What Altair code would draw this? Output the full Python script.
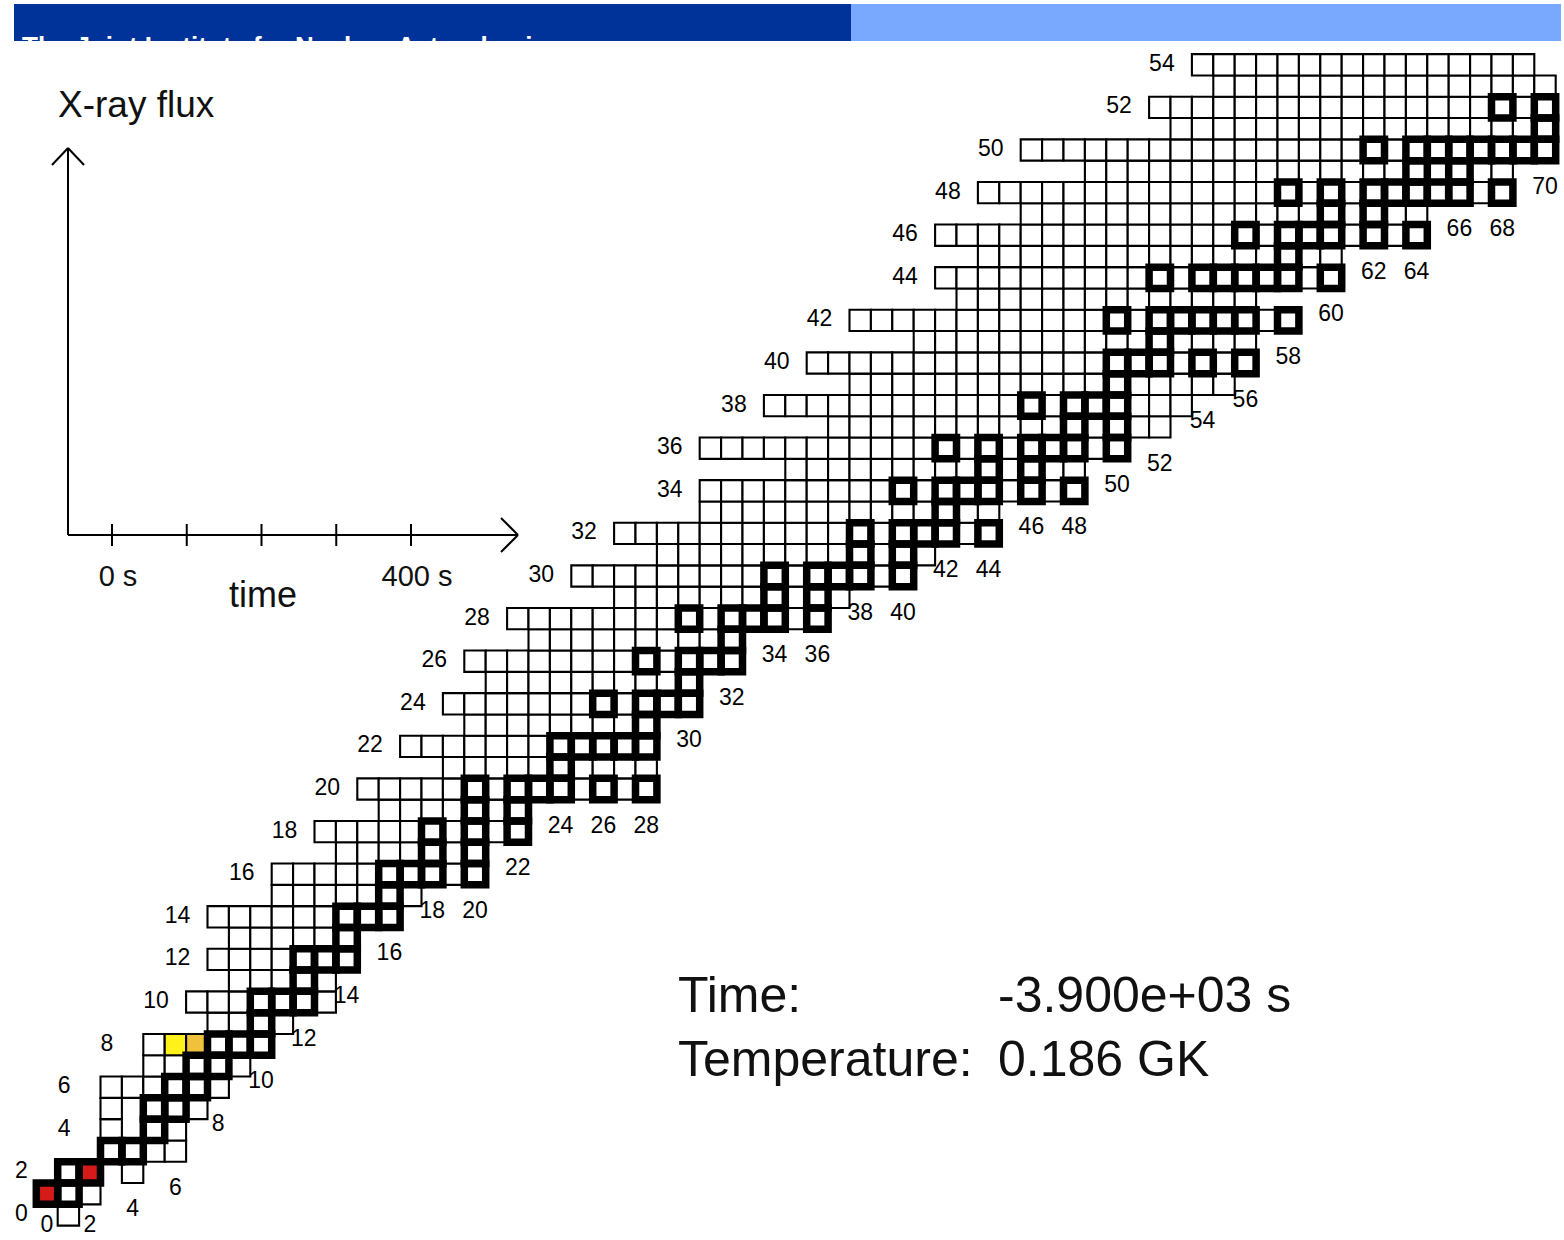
import altair as alt
import pandas as pd

W, H = 1564, 1240

# ---------------------------------------------------------------------------
# Reaction network: for every proton number Z the first and last neutron
# number N that is part of the network.
# ---------------------------------------------------------------------------
Z_ROWS = list(range(0, 55))
N_FIRST = [1, 0, 1, 3, 3, 3, 3, 5, 5, 8,
           7, 9, 8, 9, 8, 11, 11, 14, 13, 16,
           15, 19, 17, 20, 19, 21, 20, 23, 22, 27,
           25, 29, 27, 31, 31, 35, 31, 37, 34, 38,
           36, 41, 38, 43, 42, 44, 42, 46, 44, 49,
           46, 53, 52, 55, 54]
N_LAST = [1, 2, 4, 6, 6, 7, 8, 9, 10, 11,
          13, 13, 14, 14, 16, 17, 20, 20, 22, 22,
          28, 28, 28, 28, 30, 30, 32, 32, 36, 37,
          40, 41, 44, 44, 48, 48, 50, 52, 53, 55,
          56, 56, 58, 56, 60, 60, 64, 64, 68, 68,
          70, 70, 70, 70, 69]
# unbound nuclei inside a row's span (Z, N)
MISSING = [(2, 3), (4, 4), (5, 4)]

# stable isotopes, neutron numbers per element
STABLE_N = {
    1: [0, 1], 2: [1, 2], 3: [3, 4], 4: [5], 5: [5, 6], 6: [6, 7], 7: [7, 8],
    8: [8, 9, 10], 9: [10], 10: [10, 11, 12], 11: [12], 12: [12, 13, 14],
    13: [14], 14: [14, 15, 16], 15: [16], 16: [16, 17, 18, 20], 17: [18, 20],
    18: [18, 20, 22], 19: [20, 22], 20: [20, 22, 23, 24, 26, 28], 21: [24],
    22: [24, 25, 26, 27, 28], 23: [28], 24: [26, 28, 29, 30], 25: [30],
    26: [28, 30, 31, 32], 27: [32], 28: [30, 32, 33, 34, 36], 29: [34, 36],
    30: [34, 36, 37, 38, 40], 31: [38, 40], 32: [38, 40, 41, 42, 44], 33: [42],
    34: [40, 42, 43, 44, 46, 48], 35: [44, 46], 36: [42, 44, 46, 47, 48, 50],
    37: [48, 50], 38: [46, 48, 49, 50], 39: [50], 40: [50, 51, 52, 54, 56],
    41: [52], 42: [50, 52, 53, 54, 55, 56, 58], 44: [52, 54, 55, 56, 57, 58, 60],
    45: [58], 46: [56, 58, 59, 60, 62, 64], 47: [60, 62],
    48: [58, 60, 62, 63, 64, 65, 66, 68], 49: [64, 66],
    50: [62, 64, 65, 66, 67, 68, 69, 70], 51: [70], 52: [68, 70],
}

# abundance colouring at this time step (Z, N) -> colour
ABUNDANCE_COLOUR = {
    (1, 0): "#d61a1a",
    (2, 2): "#d61a1a",
    (8, 6): "#fff21a",
    (8, 7): "#f0c23c",
}

TIME_TICKS = [0, 100, 200, 300, 400]
TIME_TICK_TEXT = ["0 s", "", "", "", "400 s"]
TIME_VALUE = "-3.900e+03 s"
TEMPERATURE_VALUE = "0.186 GK"
HEADER_TEXT = "The Joint Institute for Nuclear Astrophysics"

# ---------------------------------------------------------------------------
# tables built from the arrays above
# ---------------------------------------------------------------------------
records = []
for z, n_first, n_last in zip(Z_ROWS, N_FIRST, N_LAST):
    for n in range(n_first, n_last + 1):
        if (z, n) in MISSING:
            continue
        records.append({
            "Z": z,
            "N": n,
            "fill": ABUNDANCE_COLOUR.get((z, n), "white"),
            "stable": n in STABLE_N.get(z, []),
        })
cells = pd.DataFrame(records)
cells["n0"] = cells["N"] - 0.5
cells["n1"] = cells["N"] + 0.5
cells["z0"] = cells["Z"] - 0.5
cells["z1"] = cells["Z"] + 0.5

# proton-number labels sit two cells left of the first nucleus of even rows
z_labels = pd.DataFrame({
    "Z": [z for z in Z_ROWS if z % 2 == 0],
    "N": [N_FIRST[z] - 2.5 for z in Z_ROWS if z % 2 == 0],
    "text": [str(z) for z in Z_ROWS if z % 2 == 0],
})

# neutron-number labels sit two rows below the lowest nucleus of even
# columns, kept inside the bottom edge of the chart
lowest_z = cells.groupby("N")["Z"].min()
even_n = [n for n in range(0, int(cells["N"].max()) + 1, 2)]
n_labels = pd.DataFrame({
    "N": even_n,
    "Z": [max(lowest_z[n] - 2, -0.75) for n in even_n],
    "text": [str(n) for n in even_n],
})

# ---------------------------------------------------------------------------
# chart of nuclides
# ---------------------------------------------------------------------------
PX_PER_N = 21.4
PX_PER_Z = 21.3
N0_PX = 47.0      # horizontal position of N = 0
Z0_PX = 1215.0    # vertical position of Z = 0

n_scale = alt.Scale(domain=[-N0_PX / PX_PER_N, (W - N0_PX) / PX_PER_N],
                    nice=False, zero=False)
z_scale = alt.Scale(domain=[(Z0_PX - H) / PX_PER_Z, Z0_PX / PX_PER_Z],
                    nice=False, zero=False)

box_enc = dict(
    x=alt.X("n0:Q", scale=n_scale, axis=None),
    x2="n1:Q",
    y=alt.Y("z0:Q", scale=z_scale, axis=None),
    y2="z1:Q",
)

boxes = alt.Chart(cells).mark_rect(stroke="black", strokeWidth=2.1).encode(
    fill=alt.Fill("fill:N", scale=None), **box_enc
)

stable_boxes = alt.Chart(cells).transform_filter(
    alt.datum.stable
).mark_rect(fillOpacity=0, stroke="black", strokeWidth=7.5).encode(**box_enc)

label_font = dict(font="Liberation Sans", fontSize=23, color="black")

z_text = alt.Chart(z_labels).mark_text(
    align="left", baseline="alphabetic", dy=6, **label_font
).encode(
    x=alt.X("N:Q", scale=n_scale, axis=None),
    y=alt.Y("Z:Q", scale=z_scale, axis=None),
    text="text:N",
)

n_text = alt.Chart(n_labels).mark_text(
    align="center", baseline="alphabetic", dy=1, **label_font
).encode(
    x=alt.X("N:Q", scale=n_scale, axis=None),
    y=alt.Y("Z:Q", scale=z_scale, axis=None),
    text="text:N",
)

network = alt.layer(boxes, stable_boxes, z_text, n_text)

# ---------------------------------------------------------------------------
# light-curve inset: flux against time
# ---------------------------------------------------------------------------
T0_PX = 112.0        # position of t = 0 s
PX_PER_S = 299.0 / 400.0
time_scale = alt.Scale(domain=[-T0_PX / PX_PER_S, (W - T0_PX) / PX_PER_S],
                       nice=False, zero=False)

one = pd.DataFrame({"k": [0]})
ticks = pd.DataFrame({"t": TIME_TICKS, "label": TIME_TICK_TEXT})

axis_style = dict(color="black", strokeWidth=2)


def seg(x1, y1, x2, y2):
    return alt.Chart(one).mark_rule(**axis_style).encode(
        x=alt.value(x1), y=alt.value(y1), x2=alt.value(x2), y2=alt.value(y2)
    )


flux_axis = alt.layer(
    seg(68, 535, 68, 148), seg(68, 148, 52, 165), seg(68, 148, 84, 165),
    seg(68, 535, 518, 535), seg(518, 535, 501, 518), seg(518, 535, 501, 552),
)

tick_marks = alt.Chart(ticks).mark_rule(**axis_style).encode(
    x=alt.X("t:Q", scale=time_scale, axis=None),
    y=alt.value(524), y2=alt.value(546),
)
tick_text = alt.Chart(ticks).mark_text(
    font="Liberation Sans", fontSize=29, align="center", baseline="alphabetic",
    dx=6, color="#111111"
).encode(
    x=alt.X("t:Q", scale=time_scale, axis=None),
    y=alt.value(586),
    text="label:N",
)


def note(text, x, y, size, align="left", color="#111111", weight="normal"):
    return alt.Chart(one).mark_text(
        text=text, font="Liberation Sans", fontSize=size, align=align,
        baseline="alphabetic", color=color, fontWeight=weight,
    ).encode(x=alt.value(x), y=alt.value(y))


inset = alt.layer(
    flux_axis, tick_marks, tick_text,
    note("X-ray flux", 58, 117, 37),
    note("time", 263, 607, 36, align="center"),
)

# ---------------------------------------------------------------------------
# slide header and status read-out
# ---------------------------------------------------------------------------
header = alt.layer(
    alt.Chart(one).mark_rect(color="#003399").encode(
        x=alt.value(14), x2=alt.value(851), y=alt.value(4), y2=alt.value(41)),
    alt.Chart(one).mark_rect(color="#78a8ff").encode(
        x=alt.value(851), x2=alt.value(1561), y=alt.value(4), y2=alt.value(41)),
    note(HEADER_TEXT, 22, 55, 26, color="white", weight="bold"),
)

status = alt.layer(
    note("Time:", 678, 1012, 50),
    note(TIME_VALUE, 998, 1012, 50),
    note("Temperature:", 678, 1076, 50),
    note(TEMPERATURE_VALUE, 998, 1076, 50),
)

chart = alt.layer(network, inset, header, status).resolve_scale(
    x="independent", y="independent"
).properties(
    width=W, height=H, padding=0, autosize=alt.AutoSizeParams(type="none"),
    background="white",
).configure_view(stroke=None)

chart.save("out.html", embed_options={"renderer": "svg", "actions": False})
